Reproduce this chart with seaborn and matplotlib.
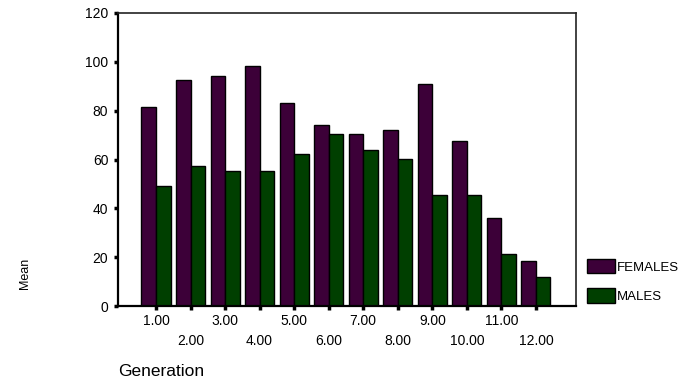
import pandas as pd
import seaborn as sns
import matplotlib.pyplot as plt

generations = ["1.00", "2.00", "3.00", "4.00", "5.00", "6.00",
               "7.00", "8.00", "9.00", "10.00", "11.00", "12.00"]
females = [81.5, 92.5, 94.2, 98.4, 83.1, 74.2, 70.4, 72.2, 91.1, 67.5, 36.0, 18.4]
males = [49.2, 57.4, 55.2, 55.2, 62.3, 70.4, 64.0, 60.1, 45.5, 45.5, 21.2, 12.0]

df = pd.DataFrame({
    "Generation": generations * 2,
    "Mean": females + males,
    "Sex": ["FEMALES"] * len(generations) + ["MALES"] * len(generations),
})

sns.set_style("white")
plt.rcParams['font.family'] = ['Liberation Sans', 'DejaVu Sans']
plt.rcParams['text.color'] = 'black'
plt.rcParams['xtick.color'] = 'black'
plt.rcParams['ytick.color'] = 'black'

fig = plt.figure(figsize=(6.86, 3.81), dpi=100)
ax = fig.add_axes([118 / 686, 1 - 306 / 381, (576 - 118) / 686, (306 - 13) / 381])

sns.barplot(data=df, x="Generation", y="Mean", hue="Sex", ax=ax,
            palette={"FEMALES": "#3c0038", "MALES": "#003f00"}, saturation=1,
            edgecolor="black", linewidth=1, width=0.84, errorbar=None)

ax.set_ylim(0, 120)
ax.set_xlim(-1.1, 12.16)
ax.set_yticks([0, 20, 40, 60, 80, 100, 120])
ax.set_xlabel("")
ax.set_ylabel("")

for side in ["left", "bottom"]:
    ax.spines[side].set_linewidth(1.6)
    ax.spines[side].set_color("black")
for side in ["top", "right"]:
    ax.spines[side].set_linewidth(1.2)
    ax.spines[side].set_color("#222222")

ax.tick_params(axis="y", left=True, length=3, width=2.5, pad=4, labelsize=10)
ax.tick_params(axis="x", bottom=True, length=3, width=2.5, pad=3, labelsize=10)
for i, t in enumerate(ax.xaxis.get_major_ticks()):
    if i % 2 == 1:
        t.set_pad(17)

ax.legend(loc="upper left", bbox_to_anchor=(587 / 686, 1 - 259 / 381),
          bbox_transform=fig.transFigure, frameon=False, fontsize=9.5,
          handlelength=2.1, handleheight=1.3, handletextpad=0.2,
          labelspacing=1.1, borderpad=0, borderaxespad=0)

fig.text(25 / 686, 1 - 273 / 381, "Mean", rotation=90, va="center", ha="center", fontsize=9)
fig.text(118 / 686, 1 - 372 / 381, "Generation", va="center", ha="left", fontsize=12.5)

fig.savefig("out.png", dpi=100)
